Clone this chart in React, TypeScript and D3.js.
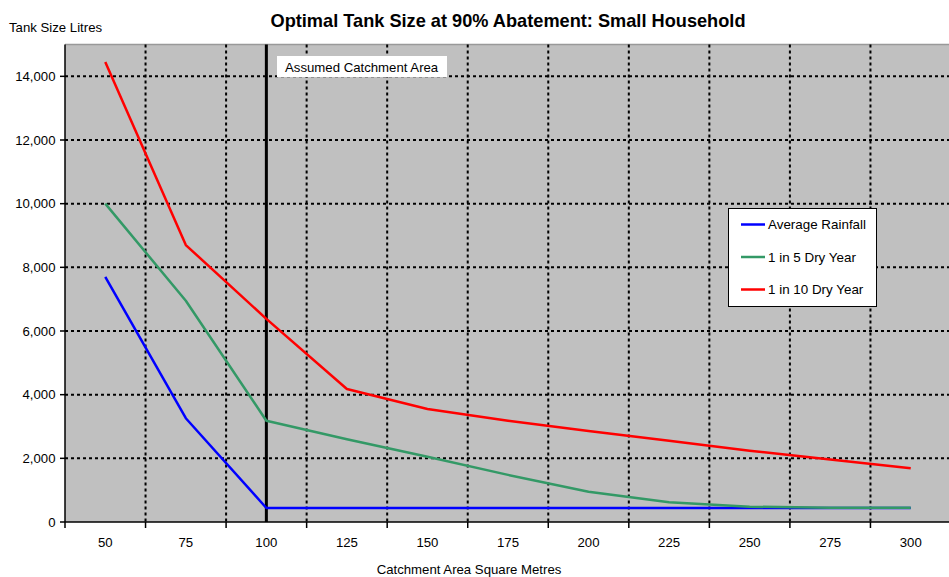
import React from "react";
import * as d3 from "d3";

const categories = [50, 75, 100, 125, 150, 175, 200, 225, 250, 275, 300];
const averageRainfall = [7700, 3260, 440, 440, 440, 440, 440, 440, 440, 440, 440];
const dry1in5 = [10000, 6950, 3180, 2600, 2050, 1480, 950, 620, 480, 450, 450];
const dry1in10 = [14450, 8700, 6380, 4180, 3550, 3180, 2860, 2550, 2240, 1960, 1690];
const yTicks = [0, 2000, 4000, 6000, 8000, 10000, 12000, 14000];
const assumedCatchment = 100;

const seriesList = [
  { name: "Average Rainfall", values: averageRainfall, color: "#0000ff" },
  { name: "1 in 5 Dry Year", values: dry1in5, color: "#339966" },
  { name: "1 in 10 Dry Year", values: dry1in10, color: "#ff0000" },
];

const W = 949;
const H = 577;
const left = 65;
const right = 951;
const top = 44.5;
const bottom = 522;
const font = "Arial, 'Liberation Sans', Helvetica, sans-serif";
const fs = 13.2;

export default function App() {
  const x = d3.scaleBand<number>().domain(categories).range([left, right]).padding(0);
  const bw = x.bandwidth();
  const cx = (c: number) => (x(c) as number) + bw / 2;
  const y = d3.scaleLinear().domain([0, 15000]).range([bottom, top]);
  const fmt = d3.format(",");
  const boundaries = categories.slice(1).map((c) => x(c) as number);
  const line = d3
    .line<number>()
    .x((_, i) => cx(categories[i]))
    .y((v) => y(v));

  return (
    <svg width={W} height={H} style={{ position: "absolute", left: 0, top: 0 }} fontFamily={font}>
      <rect x={0} y={0} width={W} height={H} fill="#ffffff" />
      <text x={508} y={26.5} textAnchor="middle" fontSize={18.2} fontWeight="bold" fill="#000">
        Optimal Tank Size at 90% Abatement: Small Household
      </text>
      <text x={9} y={31.5} fontSize={fs} fill="#000">Tank Size Litres</text>
      <rect x={left} y={top} width={right - left} height={bottom - top} fill="#c0c0c0" />
      <line x1={left} x2={right} y1={top} y2={top} stroke="#999" strokeWidth={1.5} />
      {yTicks.filter((t) => t > 0).map((t) => (
        <line key={"h" + t} x1={left} x2={right} y1={y(t)} y2={y(t)} stroke="#000" strokeWidth={2} strokeDasharray="3,3" />
      ))}
      {boundaries.map((b, i) => (
        <line key={"v" + i} x1={b} x2={b} y1={top} y2={bottom} stroke="#000" strokeWidth={2} strokeDasharray="3,3" />
      ))}
      <line x1={cx(assumedCatchment)} x2={cx(assumedCatchment)} y1={top} y2={bottom} stroke="#000" strokeWidth={3} />
      <rect x={277} y={56} width={170} height={21} fill="#fff" />
      <text x={285} y={71.5} fontSize={fs} fill="#000">Assumed Catchment Area</text>
      {seriesList.map((s) => (
        <path key={s.name} d={line(s.values) || ""} fill="none" stroke={s.color} strokeWidth={2.5} strokeLinejoin="round" />
      ))}
      {/* axes */}
      <line x1={left} x2={left} y1={top} y2={bottom} stroke="#000" strokeWidth={1.5} />
      <line x1={left} x2={right} y1={bottom} y2={bottom} stroke="#000" strokeWidth={1.5} />
      {yTicks.map((t) => (
        <g key={"yt" + t}>
          <line x1={left - 5} x2={left} y1={y(t)} y2={y(t)} stroke="#000" strokeWidth={1.5} />
          <text x={55.5} y={y(t) + 4.7} textAnchor="end" fontSize={fs} fill="#000">{fmt(t)}</text>
        </g>
      ))}
      {[left, ...boundaries].map((b, i) => (
        <line key={"xt" + i} x1={b} x2={b} y1={bottom} y2={bottom + 6} stroke="#000" strokeWidth={1.5} />
      ))}
      {categories.map((c) => (
        <text key={"xl" + c} x={cx(c)} y={546.5} textAnchor="middle" fontSize={fs} fill="#000">{c}</text>
      ))}
      <text x={469} y={574} textAnchor="middle" fontSize={fs} fill="#000">Catchment Area Square Metres</text>
      {/* legend */}
      <rect x={728.5} y={208.5} width={148} height={98} fill="#fff" stroke="#000" strokeWidth={1} />
      {seriesList.map((s, i) => {
        const ly = 224.5 + i * 32.5;
        return (
          <g key={"lg" + s.name}>
            <line x1={741} x2={765} y1={ly} y2={ly} stroke={s.color} strokeWidth={2.5} />
            <text x={768} y={ly + 4.7} fontSize={13.4} fill="#000">{s.name}</text>
          </g>
        );
      })}
    </svg>
  );
}
